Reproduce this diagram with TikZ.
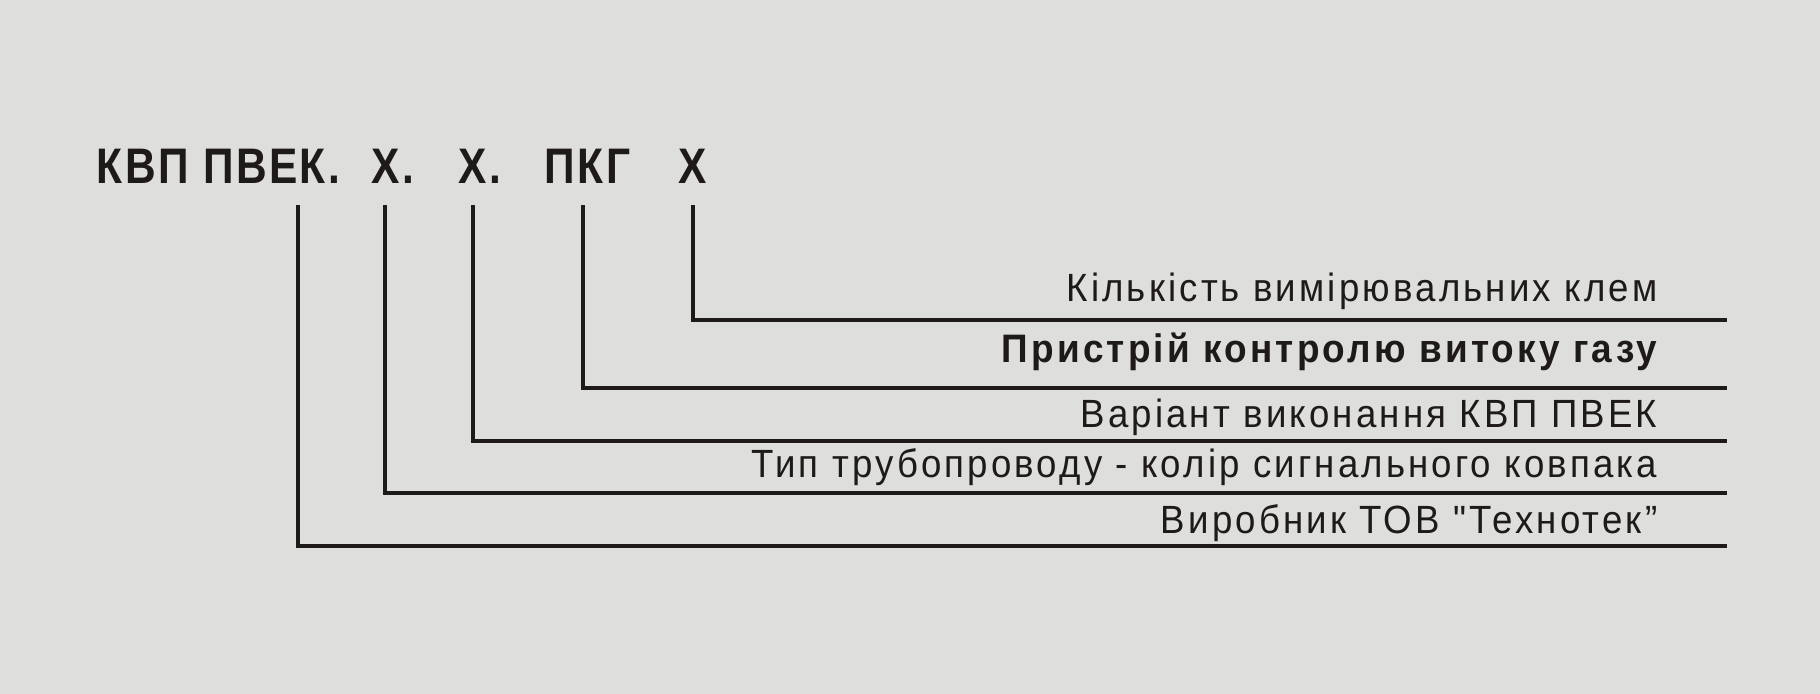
\documentclass[tikz,border=0pt]{standalone}
\usepackage{fontspec}
\setmainfont{Liberation Sans}
\newfontfamily\codefont{Liberation Sans}[FakeStretch=0.85,LetterSpace=5]
\newfontfamily\descfont{Liberation Sans}[FakeStretch=0.93,LetterSpace=8]
\usepackage{xcolor}
\usetikzlibrary{positioning}
\definecolor{bgcol}{RGB}{222,222,220}
\definecolor{inkcol}{RGB}{30,26,26}

\begin{document}
\begin{tikzpicture}[
    x=0.01cm,y=-0.01cm,
    code/.style={anchor=base west,inner sep=0pt,text=inkcol,font=\codefont\fontsize{14.2}{16}\selectfont\bfseries},
    desc/.style={anchor=base east,inner sep=0pt,text=inkcol,font=\descfont\fontsize{11.2}{13}\selectfont},
    leader/.style={draw=inkcol,line width=1.15pt}
]
    % Background
    \fill[bgcol] (0,0) rectangle (1820,694);
    \useasboundingbox (0,0) rectangle (1820,694);

    % Product code
    \node[code] (kvp) at (96,183) {КВП ПВЕК.};
    \node[code] (pipe) at (371,183) {X.};
    \node[code] (var) at (458,183) {X.};
    \node[code] (pkg) at (544,183) {ПКГ};
    \node[code] (clamp) at (678,183) {X};

    % Descriptions
    \node[desc] (dclamp) at (1658,301) {Кількість вимірювальних клем};
    \node[desc,font=\descfont\fontsize{11.3}{13}\selectfont\bfseries] (dpkg) at (1658,362) {Пристрій контролю витоку газу};
    \node[desc] (dvar) at (1658,427) {Варіант виконання КВП ПВЕК};
    \node[desc] (dpipe) at (1658,477) {Тип трубопроводу - колір сигнального ковпака};
    \node[desc] (dkvp) at (1658,533) {Виробник ТОВ "Технотек”};

    % Leader line ends
    \coordinate (tkvp) at (298,205);
    \coordinate (tpipe) at (385,205);
    \coordinate (tvar) at (473,205);
    \coordinate (tpkg) at (583,205);
    \coordinate (tclamp) at (693,205);
    \coordinate (ekvp) at (1727,546);
    \coordinate (epipe) at (1727,493);
    \coordinate (evar) at (1727,441);
    \coordinate (epkg) at (1727,388);
    \coordinate (eclamp) at (1727,320);

    % Leader lines
    \draw[leader] (tkvp) |- (ekvp);
    \draw[leader] (tpipe) |- (epipe);
    \draw[leader] (tvar) |- (evar);
    \draw[leader] (tpkg) |- (epkg);
    \draw[leader] (tclamp) |- (eclamp);
\end{tikzpicture}
\end{document}
